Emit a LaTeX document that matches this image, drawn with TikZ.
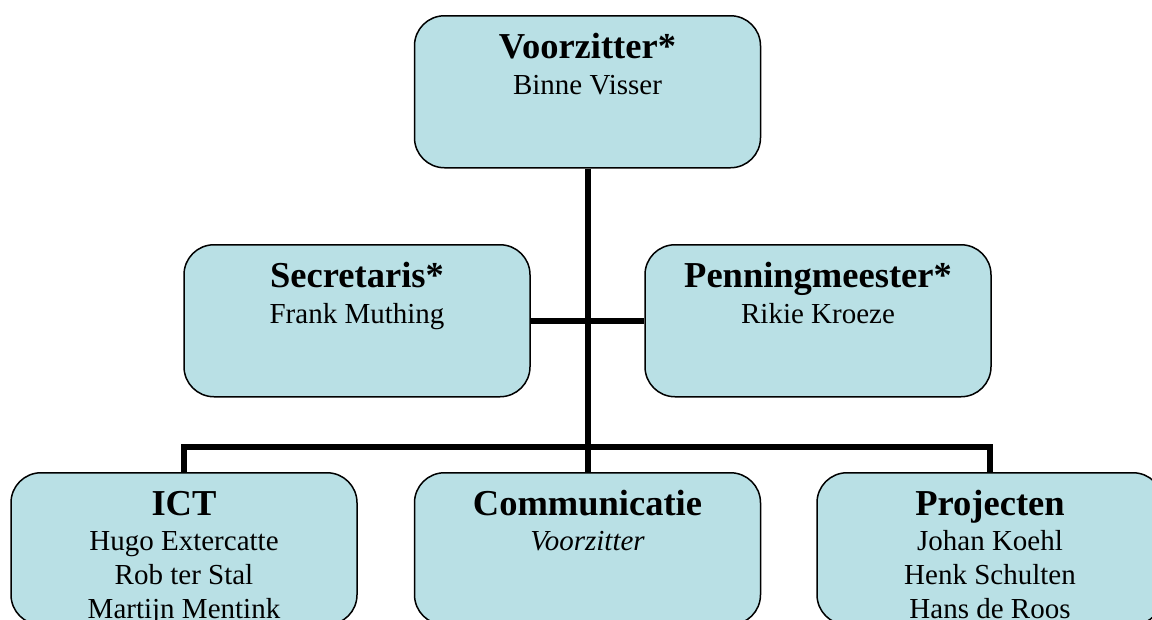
\documentclass[tikz,border=0pt]{standalone}
\usepackage{fontspec}
\setmainfont{Liberation Serif}
\definecolor{boxfill}{RGB}{185,224,229}
\begin{document}
\begin{tikzpicture}[x=1pt,y=-1pt,
 orgbox/.style={draw=black, line width=1.5pt, fill=boxfill, rounded corners=30pt, minimum width=346pt, minimum height=152pt, inner sep=0pt, anchor=north},
 ttl/.style={font=\fontsize{36.5}{40}\selectfont\bfseries, anchor=base, inner sep=0pt},
 nm/.style={font=\fontsize{29}{34}\selectfont, anchor=base, inner sep=0pt},
 link/.style={line width=6pt, line join=miter}]
\useasboundingbox (0,0) rectangle (1152,619);
\clip (0,0) rectangle (1152,619);
% boxes
\node[orgbox] (voor) at (587.5,15) {};
\node[orgbox] (sec) at (357,244) {};
\node[orgbox] (pen) at (818,244) {};
\node[orgbox] (ict) at (184,472) {};
\node[orgbox] (comm) at (587.5,472) {};
\node[orgbox] (proj) at (990,472) {};
% connectors
\coordinate (bus) at (587.5,447);
\draw[link] (voor.south) -- (comm.north);
\draw[link] (sec.east) -- (pen.west);
\draw[link] (ict.north) -- (ict.north |- bus) -- (proj.north |- bus) -- (proj.north);
% texts
\node[ttl] (voorT) at (587.5,58) {Voorzitter*};
\node[nm] (voorN) at (587.5,94) {Binne Visser};
\node[ttl] (secT) at (357,287) {Secretaris*};
\node[nm] (secN) at (357,323) {Frank Muthing};
\node[ttl] (penT) at (818,287) {Penningmeester*};
\node[nm] (penN) at (818,323) {Rikie Kroeze};
\node[ttl] (ictT) at (184,515) {ICT};
\node[nm] (ictA) at (184,550) {Hugo Extercatte};
\node[nm] (ictB) at (184,584) {Rob ter Stal};
\node[nm] (ictC) at (184,618) {Martijn Mentink};
\node[ttl] (commT) at (587.5,515) {Communicatie};
\node[nm] (commN) at (587.5,550) {\itshape Voorzitter};
\node[ttl] (projT) at (990,515) {Projecten};
\node[nm] (projA) at (990,550) {Johan Koehl};
\node[nm] (projB) at (990,584) {Henk Schulten};
\node[nm] (projC) at (990,618) {Hans de Roos};
\end{tikzpicture}
\end{document}
